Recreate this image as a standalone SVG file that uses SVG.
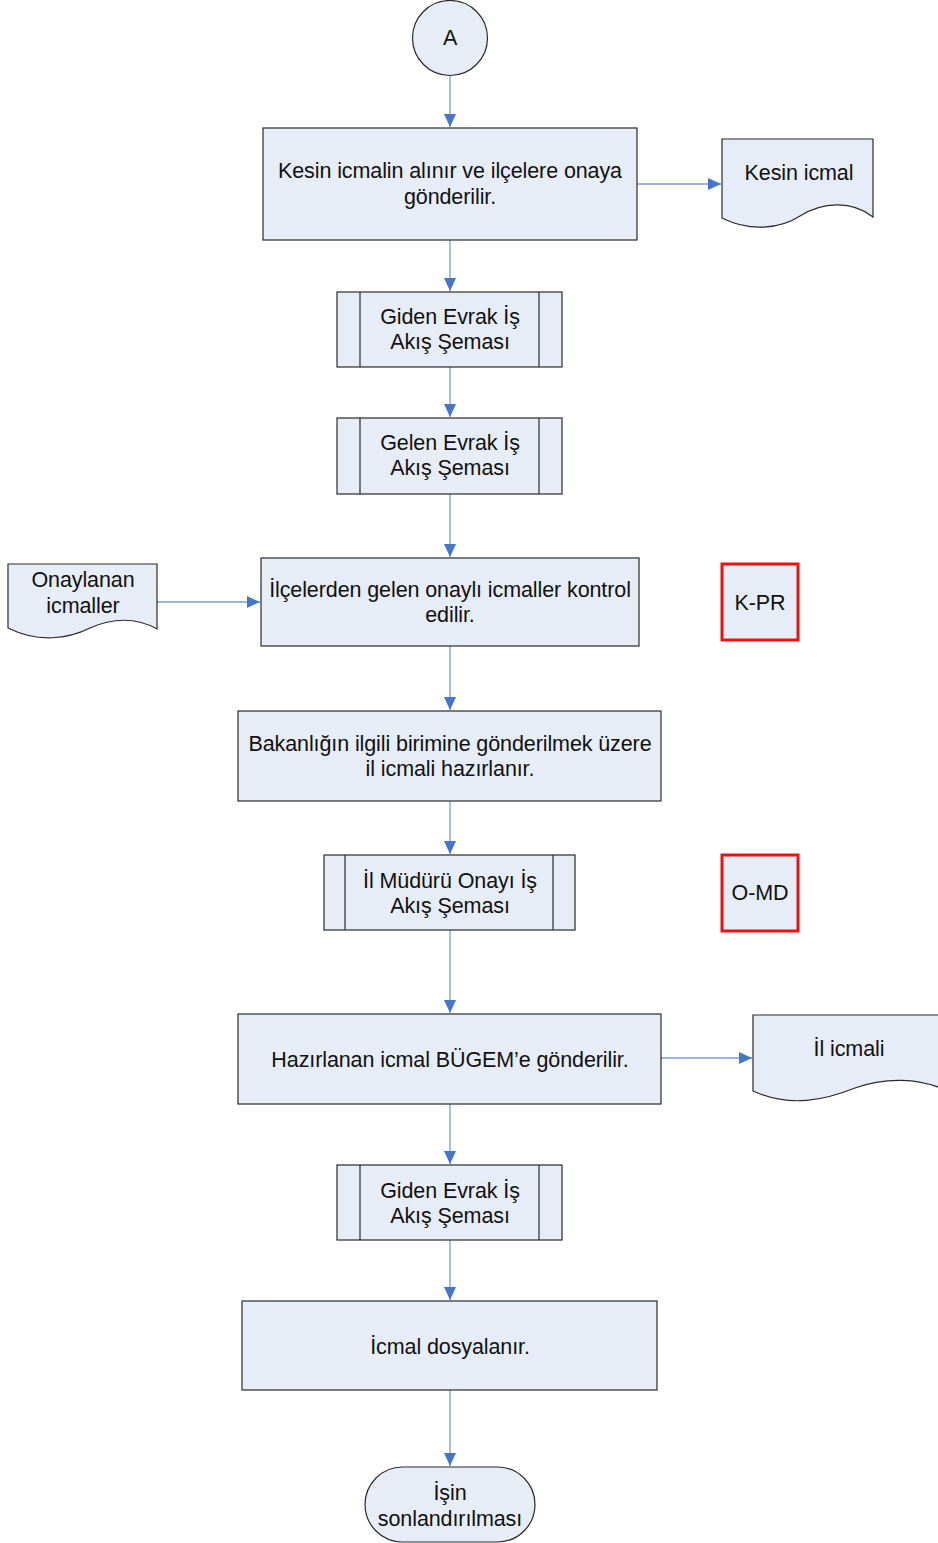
<svg xmlns="http://www.w3.org/2000/svg" width="938" height="1543" viewBox="0 0 938 1543">
<defs>
<style>
.n{fill:#E7EDF7;stroke:#2b2b2b;stroke-width:1.2}
.r{fill:#E7EDF7;stroke:#EE1111;stroke-width:3}
.t{font-family:"Liberation Sans",Arial,sans-serif;font-size:21.5px;fill:#111;text-anchor:middle;letter-spacing:-0.1px}
.c{stroke:#7B9FD8;stroke-width:1.3;fill:none;marker-end:url(#ah)}
</style>
<marker id="ah" viewBox="0 0 13 12" refX="13" refY="6" markerWidth="13" markerHeight="12" markerUnits="userSpaceOnUse" orient="auto">
<path d="M0,0 L13,6 L0,12 Z" fill="#4676C6"/>
</marker>
</defs>
<rect width="938" height="1543" fill="#fff"/>
<g id="connectors">
<line class="c" x1="450" y1="76" x2="450" y2="127"/>
<line class="c" x1="637" y1="184" x2="721" y2="184"/>
<line class="c" x1="450" y1="240" x2="450" y2="291"/>
<line class="c" x1="450" y1="367" x2="450" y2="417"/>
<line class="c" x1="450" y1="494" x2="450" y2="557"/>
<line class="c" x1="157" y1="602" x2="260" y2="602"/>
<line class="c" x1="450" y1="646" x2="450" y2="710"/>
<line class="c" x1="450" y1="801" x2="450" y2="854"/>
<line class="c" x1="450" y1="930" x2="450" y2="1013"/>
<line class="c" x1="661" y1="1058" x2="752" y2="1058"/>
<line class="c" x1="450" y1="1104" x2="450" y2="1164"/>
<line class="c" x1="450" y1="1240" x2="450" y2="1300"/>
<line class="c" x1="450" y1="1390" x2="450" y2="1466"/>
</g>
<g id="start">
<circle class="n" cx="450" cy="38" r="37.5"/>
<text class="t" x="450" y="45">A</text>
</g>
<g id="step1">
<rect class="n" x="263" y="128" width="374" height="112"/>
<text class="t" x="450" y="178">Kesin icmalin alınır ve ilçelere onaya</text>
<text class="t" x="450" y="204">gönderilir.</text>
</g>
<g id="doc-kesin">
<path class="n" d="M722,139 H873 V217 C852,200 822,202 800,216 C780,229 750,232 722,218 Z"/>
<text class="t" x="799" y="180">Kesin icmal</text>
</g>
<g id="sub-giden1">
<rect class="n" x="337" y="292" width="225" height="75"/>
<line class="n" x1="360" y1="292" x2="360" y2="367"/>
<line class="n" x1="539" y1="292" x2="539" y2="367"/>
<text class="t" x="450" y="324">Giden Evrak İş</text>
<text class="t" x="450" y="349">Akış Şeması</text>
</g>
<g id="sub-gelen">
<rect class="n" x="337" y="418" width="225" height="76"/>
<line class="n" x1="360" y1="418" x2="360" y2="494"/>
<line class="n" x1="539" y1="418" x2="539" y2="494"/>
<text class="t" x="450" y="450">Gelen Evrak İş</text>
<text class="t" x="450" y="475">Akış Şeması</text>
</g>
<g id="doc-onaylanan">
<path class="n" d="M8,564 H157 V629 C136,617 112,618 90,628 C68,639 38,643 8,628 Z"/>
<text class="t" x="83" y="587">Onaylanan</text>
<text class="t" x="83" y="613">icmaller</text>
</g>
<g id="step2">
<rect class="n" x="261" y="558" width="378" height="88"/>
<text class="t" x="450" y="597">İlçelerden gelen onaylı icmaller kontrol</text>
<text class="t" x="450" y="622">edilir.</text>
</g>
<g id="kpr">
<rect class="r" x="722" y="564" width="76" height="76"/>
<text class="t" x="760" y="610">K-PR</text>
</g>
<g id="step3">
<rect class="n" x="238" y="711" width="423" height="90"/>
<text class="t" x="450" y="751">Bakanlığın ilgili birimine gönderilmek üzere</text>
<text class="t" x="450" y="776">il icmali hazırlanır.</text>
</g>
<g id="sub-mudur">
<rect class="n" x="324" y="855" width="251" height="75"/>
<line class="n" x1="345" y1="855" x2="345" y2="930"/>
<line class="n" x1="553" y1="855" x2="553" y2="930"/>
<text class="t" x="450" y="888">İl Müdürü Onayı İş</text>
<text class="t" x="450" y="913">Akış Şeması</text>
</g>
<g id="omd">
<rect class="r" x="722" y="855" width="76" height="76"/>
<text class="t" x="760" y="900">O-MD</text>
</g>
<g id="step4">
<rect class="n" x="238" y="1014" width="423" height="90"/>
<text class="t" x="450" y="1067">Hazırlanan icmal BÜGEM’e gönderilir.</text>
</g>
<g id="doc-il">
<path class="n" d="M753,1015 H945 V1090 C920,1078 885,1077 855,1088 C825,1100 790,1108 753,1091 Z"/>
<text class="t" x="849" y="1056">İl icmali</text>
</g>
<g id="sub-giden2">
<rect class="n" x="337" y="1165" width="225" height="75"/>
<line class="n" x1="360" y1="1165" x2="360" y2="1240"/>
<line class="n" x1="539" y1="1165" x2="539" y2="1240"/>
<text class="t" x="450" y="1198">Giden Evrak İş</text>
<text class="t" x="450" y="1223">Akış Şeması</text>
</g>
<g id="step5">
<rect class="n" x="242" y="1301" width="415" height="89"/>
<text class="t" x="450" y="1354">İcmal dosyalanır.</text>
</g>
<g id="end">
<rect class="n" x="365" y="1467" width="170" height="75" rx="37.5" ry="37.5"/>
<text class="t" x="450" y="1500">İşin</text>
<text class="t" x="450" y="1526">sonlandırılması</text>
</g>
</svg>
